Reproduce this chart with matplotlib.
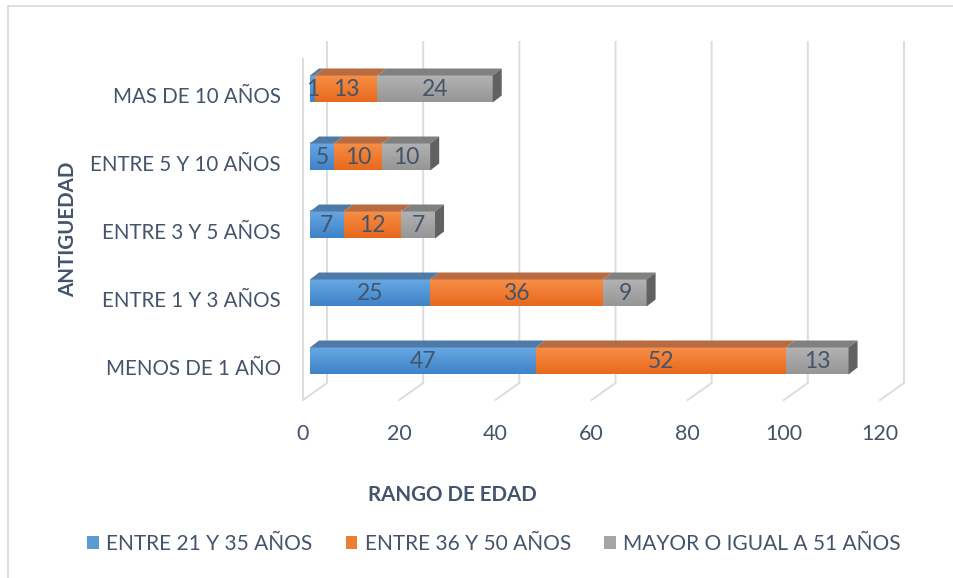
import numpy as np
import matplotlib.pyplot as plt
from matplotlib.patches import Polygon, Patch
from matplotlib.lines import Line2D
from matplotlib.colors import LinearSegmentedColormap

plt.rcParams['font.family'] = ['Lato', 'DejaVu Sans']

# datos
categorias = ['MENOS DE 1 AÑO', 'ENTRE 1 Y 3 AÑOS', 'ENTRE 3 Y 5 AÑOS',
              'ENTRE 5 Y 10 AÑOS', 'MAS DE 10 AÑOS']
edad_21_35 = [47, 25, 7, 5, 1]
edad_36_50 = [52, 36, 12, 10, 13]
edad_51_mas = [13, 9, 7, 10, 24]
series = ['ENTRE 21 Y 35 AÑOS', 'ENTRE 36 Y 50 AÑOS', 'MAYOR O IGUAL A 51 AÑOS']
ticks_x = [0, 20, 40, 60, 80, 100, 120]

# estilos: (arriba del frente, abajo del frente, cara superior)
colores = [('#68a8e3', '#3e83c8', '#4e7aa8'),
           ('#f78f48', '#e8691b', '#b86a40'),
           ('#b3b3b3', '#969696', '#808080')]
leyenda_col = ['#5b9bd5', '#ed7d31', '#a5a5a5']
texto = '#44546a'
grid = '#d9dde4'

W, H = 954, 578
fig = plt.figure(figsize=(W / 100, H / 100), dpi=100)
ax = fig.add_axes([303 / W, 1 - 400 / H, 577 / W, 358 / H])
xmin, xmax = 0, 120
ymin, ymax = -33 / 68, 325 / 68
ax.set_facecolor('none')

PX = (xmax - xmin) / 577       # unidades x por pixel
PY = (ymax - ymin) / 358       # unidades y por pixel

# rejilla 3D (suelo + pared del fondo)
fx, fy = 24 * PX, 17 * PY
for v in ticks_x:
    ax.plot([v, v + fx, v + fx], [ymin, ymin + fy, ymax], color=grid, lw=1.4,
            clip_on=False, zorder=1)
ax.plot([0, 0], [ymin, ymax - fy], color=grid, lw=1.4, clip_on=False, zorder=1)

# barras apiladas con efecto 3D
sx = 7 * PX
dx, dy = 9 * PX, 7 * PY
h = 27 / 68
grad = np.linspace(0, 1, 64).reshape(-1, 1)
valores = [edad_21_35, edad_36_50, edad_51_mas]
for i in range(len(categorias)):
    yc = i + 6 / 68
    yb, yt = yc - h / 2, yc + h / 2
    izq = sx
    for s, vals in enumerate(valores):
        v = vals[i]
        der = izq + v
        c_top, c_bot, c_sup = colores[s]
        cmap = LinearSegmentedColormap.from_list('g', [c_bot, c_top])
        ax.imshow(grad, extent=[izq, der, yb, yt], origin='lower', cmap=cmap,
                  aspect='auto', interpolation='bilinear', zorder=3, clip_on=False)
        ax.add_patch(Polygon([(izq, yt), (der, yt), (der + dx, yt + dy), (izq + dx, yt + dy)],
                             closed=True, facecolor=c_sup, edgecolor='none', zorder=3,
                             clip_on=False))
        ax.text((izq + der) / 2, yc - 0.01, str(v), ha='center', va='center', fontsize=16.5,
                color=texto, zorder=5)
        izq = der
    ax.add_patch(Polygon([(izq, yb), (izq, yt), (izq + dx, yt + dy), (izq + dx, yb + dy)],
                         closed=True, facecolor='#616161', edgecolor='none', zorder=4,
                         clip_on=False))

ax.set_xlim(xmin, xmax)
ax.set_ylim(ymin, ymax)
ax.set_xticks(ticks_x)
ax.set_xticklabels([str(t) for t in ticks_x])
ax.set_yticks(range(len(categorias)))
ax.set_yticklabels(categorias)
ax.tick_params(axis='x', length=0, pad=17, labelsize=15.5, labelcolor=texto)
ax.tick_params(axis='y', length=0, pad=16, labelsize=14.8, labelcolor=texto)
for sp in ax.spines.values():
    sp.set_visible(False)

fig.text(68 / W, 1 - 229 / H, 'ANTIGUEDAD', rotation=90, ha='center', va='center',
         fontsize=14.8, fontweight='bold', color=texto)
fig.text(452 / W, 1 - 495 / H, 'RANGO DE EDAD', ha='center', va='center',
         fontsize=14.8, fontweight='bold', color=texto)

handles = [Patch(facecolor=c, edgecolor='none') for c in leyenda_col]
fig.legend(handles, series, loc='center', bbox_to_anchor=(494 / W, 1 - 544 / H),
           ncol=3, frameon=False, fontsize=15, labelcolor=texto,
           handlelength=0.55, handleheight=0.55, handletextpad=0.35, columnspacing=1.6)

# borde del area del grafico
fig.add_artist(Line2D([8 / W, 1], [1 - 6 / H, 1 - 6 / H], color='#d9d9d9', lw=1.2))
fig.add_artist(Line2D([8 / W, 8 / W], [0, 1 - 6 / H], color='#d9d9d9', lw=1.2))

fig.savefig('out.png', dpi=100)
